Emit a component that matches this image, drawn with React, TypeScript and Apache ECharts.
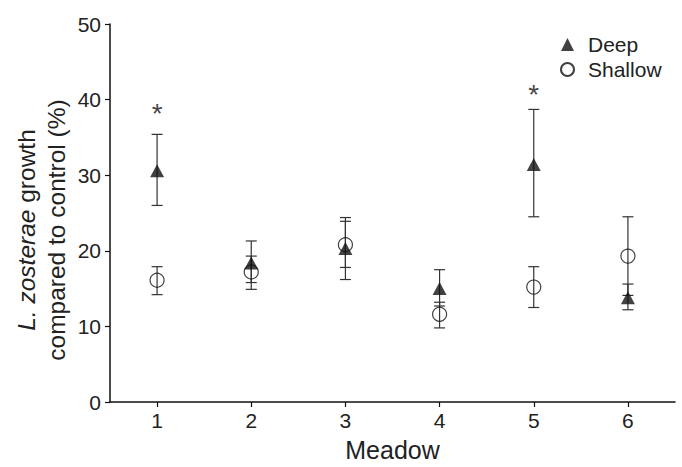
import React, { useEffect, useRef } from "react";
import * as echarts from "echarts";

const categories = ["1", "2", "3", "4", "5", "6"];
const deepMean = [30.6, 18.4, 20.3, 15.0, 31.4, 13.8];
const deepLow = [26.0, 15.8, 16.2, 12.7, 24.5, 12.2];
const deepHigh = [35.4, 21.3, 24.4, 17.5, 38.7, 15.6];
const shallowMean = [16.1, 17.2, 20.8, 11.6, 15.2, 19.3];
const shallowLow = [14.2, 14.9, 17.8, 9.8, 12.5, 14.1];
const shallowHigh = [17.9, 19.3, 23.9, 13.2, 17.9, 24.5];
const starLevels: (number | null)[] = [38.8, null, null, null, 41.4, null];
const yTicks = { min: 0, max: 50, interval: 10 };

const FONT = "'Liberation Sans', Arial, Helvetica, sans-serif";
const TXT = "#222";

export default function App() {
  const ref = useRef<HTMLDivElement>(null);
  useEffect(() => {
    if (!ref.current) return;
    const chart = echarts.init(ref.current, null, { renderer: "svg" });

    const errData = [
      ...categories.map((_, i) => [i, deepLow[i], deepHigh[i]]),
      ...categories.map((_, i) => [i, shallowLow[i], shallowHigh[i]]),
    ];
    const starData = starLevels
      .map((v, i) => (v == null ? null : [i, v]))
      .filter((d) => d != null);

    const option: any = {
      animation: false,
      backgroundColor: "#fff",
      textStyle: { fontFamily: FONT },
      grid: { left: 110, right: 7, top: 24, bottom: 63, containLabel: false },
      legend: {
        orient: "vertical",
        left: 555,
        top: 29,
        itemWidth: 13,
        itemHeight: 13,
        itemGap: 4,
        data: [
          { name: "Deep", icon: "triangle" },
          { name: "Shallow", icon: "circle" },
        ],
        textStyle: {
          fontFamily: FONT,
          fontSize: 21,
          color: TXT,
          lineHeight: 21,
          padding: [0, 0, 0, 9],
        },
        selectedMode: false,
      },
      xAxis: {
        type: "category",
        data: categories,
        boundaryGap: true,
        name: "Meadow",
        nameLocation: "middle",
        nameGap: 35,
        nameTextStyle: { fontFamily: FONT, fontSize: 25, color: TXT },
        axisLine: { show: true, lineStyle: { color: "#111", width: 1.5 } },
        axisTick: { show: true, alignWithLabel: true, length: 5, lineStyle: { color: "#111", width: 1.2 } },
        axisLabel: { fontFamily: FONT, fontSize: 21, color: TXT, margin: 8 },
        splitLine: { show: false },
      },
      yAxis: {
        type: "value",
        min: yTicks.min,
        max: yTicks.max,
        interval: yTicks.interval,
        axisLine: { show: true, lineStyle: { color: "#111", width: 1.5 } },
        axisTick: { show: true, length: 5, lineStyle: { color: "#111", width: 1.2 } },
        axisLabel: { fontFamily: FONT, fontSize: 21, color: TXT, margin: 9 },
        splitLine: { show: false },
      },
      graphic: [
        {
          type: "text",
          x: 41,
          y: 230,
          rotation: Math.PI / 2,
          style: {
            text: "{i|L. zosterae} growth\ncompared to control (%)",
            fontFamily: FONT,
            fontSize: 24.5,
            lineHeight: 30,
            fill: TXT,
            align: "center",
            verticalAlign: "middle",
            rich: {
              i: { fontStyle: "italic", fontFamily: FONT, fontSize: 24.5, lineHeight: 30, fill: TXT },
            },
          },
        },
      ],
      series: [
        {
          name: "err",
          type: "custom",
          z: 1,
          data: errData,
          encode: { x: 0, y: [1, 2] },
          renderItem: (params: any, api: any) => {
            const x = api.value(0);
            const lo = api.coord([x, api.value(1)]);
            const hi = api.coord([x, api.value(2)]);
            const w = 5.5;
            const style = { stroke: "#333", lineWidth: 1.2 };
            return {
              type: "group",
              children: [
                { type: "line", shape: { x1: lo[0], y1: lo[1], x2: hi[0], y2: hi[1] }, style },
                { type: "line", shape: { x1: lo[0] - w, y1: lo[1], x2: lo[0] + w, y2: lo[1] }, style },
                { type: "line", shape: { x1: hi[0] - w, y1: hi[1], x2: hi[0] + w, y2: hi[1] }, style },
              ],
            };
          },
        },
        {
          name: "Shallow",
          type: "scatter",
          z: 2,
          symbol: "circle",
          symbolSize: 14,
          itemStyle: { color: "rgba(255,255,255,0)", borderColor: "#111", borderWidth: 1.2 },
          data: shallowMean.map((v, i) => [i, v]),
        },
        {
          name: "Deep",
          type: "scatter",
          z: 3,
          symbol: "triangle",
          symbolSize: [14, 13],
          itemStyle: { color: "#111" },
          data: deepMean.map((v, i) => [i, v]),
        },
        {
          name: "sig",
          type: "scatter",
          z: 4,
          symbolSize: 1,
          itemStyle: { color: "rgba(0,0,0,0)" },
          label: {
            show: true,
            position: "inside",
            formatter: "*",
            fontFamily: FONT,
            fontSize: 28,
            color: "#111",
            offset: [0, 5],
          },
          data: starData,
        },
      ],
    };
    chart.setOption(option);
    return () => chart.dispose();
  }, []);

  return (
    <div
      ref={ref}
      style={{ position: "absolute", left: 0, top: 0, width: 682, height: 467 }}
    />
  );
}
